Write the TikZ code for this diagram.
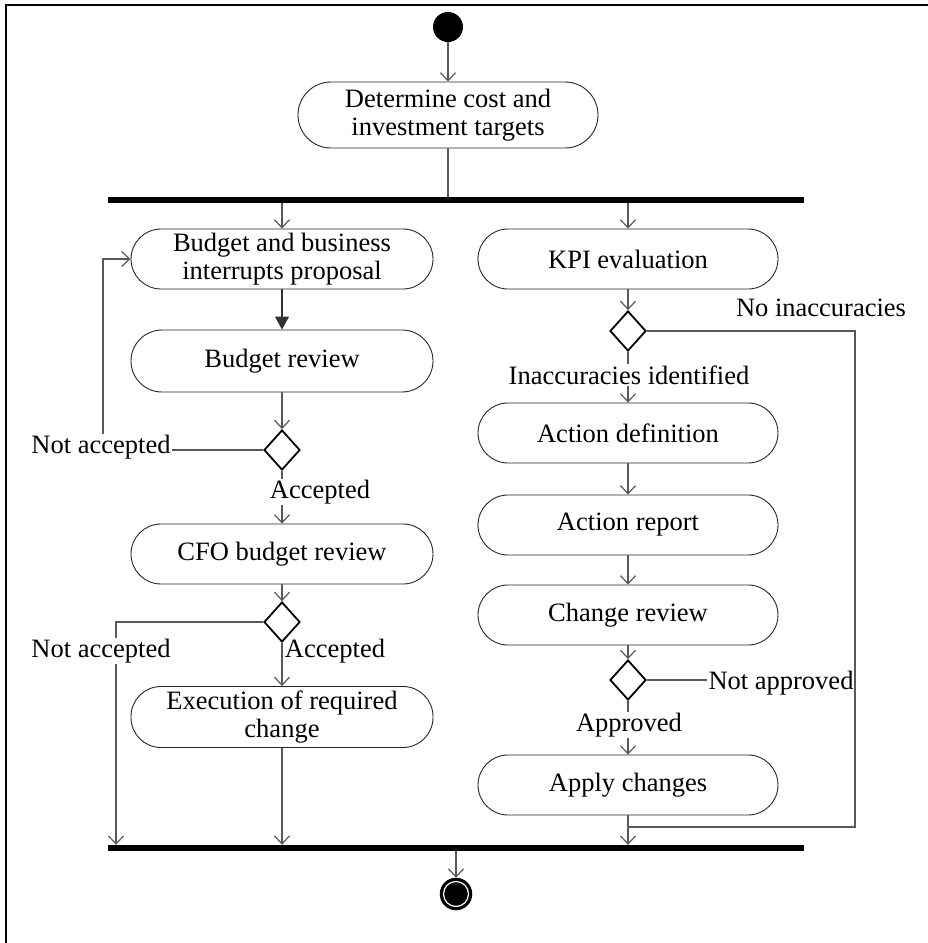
\documentclass[tikz,border=0pt]{standalone}
\usepackage{fontspec}
\setmainfont{Liberation Serif}
\usetikzlibrary{arrows.meta,shapes.geometric}
\begin{document}
\begin{tikzpicture}[x=1pt,y=-1pt,
  every node/.style={font=\fontsize{26.5}{28}\selectfont},
  action/.style={draw=black!85, line width=0.9pt, rounded corners=30pt,
    minimum width=302pt, minimum height=60pt, align=center, inner sep=0pt},
  choice/.style={diamond, draw=black, line width=1.8pt, minimum width=36pt,
    minimum height=40pt, inner sep=0pt},
  bar/.style={fill=black, minimum width=696pt, minimum height=6pt, inner sep=0pt},
  guard/.style={inner sep=1pt, fill=white},
  flow/.style={draw=black!65, line width=1.2pt},
  arr/.style={flow, -{Straight Barb[length=8pt,width=15pt]}},
  solidarr/.style={draw=black!80, line width=1.2pt, -{Triangle[length=13pt,width=14pt]}},
  startnode/.style={circle, fill=black, minimum size=30pt, inner sep=0pt},
  endnode/.style={circle, fill=black, draw=black, line width=1.5pt, minimum size=31pt,
    inner sep=0pt, path picture={\draw[white, line width=1.2pt]
      (path picture bounding box.center) circle (12.5pt);}}
]
\useasboundingbox (0,0) rectangle (928,943);
% frame
\draw[line width=2.2pt] (6,943) -- (6,5) -- (928,5);

% start, first action and fork
\node[startnode] (start) at (448,27) {};
\node[action, minimum width=300pt, minimum height=66pt, rounded corners=33pt]
  (det) at (448,115) {Determine cost and\\investment targets};
\node[bar] (fork) at (456,200) {};

% left branch
\node[action] (bprop) at (282,259) {Budget and business\\interrupts proposal};
\node[action, minimum height=62pt, rounded corners=31pt] (brev) at (282,361) {Budget review};
\node[choice] (d1) at (282,450) {};
\node[action] (cfo) at (282,554) {CFO budget review};
\node[choice] (d2) at (282,622) {};
\node[action, minimum height=61pt] (exec) at (282,717) {Execution of required\\change};

% right branch
\node[action, minimum width=300pt] (kpi) at (628,259) {KPI evaluation};
\node[choice] (d3) at (628,331) {};
\node[action, minimum width=300pt] (actdef) at (628,433) {Action definition};
\node[action, minimum width=300pt] (actrep) at (628,525) {Action report};
\node[action, minimum width=300pt] (chrev) at (628,615) {Change review};
\node[choice] (d4) at (628,680) {};
\node[action, minimum width=300pt] (apply) at (628,785) {Apply changes};

% join and end
\node[bar] (join) at (456,848) {};
\node[endnode] (end) at (456,894) {};

% guard labels
\node[guard] (na1) at (101,447) {Not accepted};
\node[guard] (acc1) at (320,492) {Accepted};
\node[guard] (na2) at (101,651) {Not accepted};
\node[guard, fill=none] (acc2) at (335,651) {Accepted};
\node[guard, fill=none] (noinacc) at (821,308) {No inaccuracies};
\node[guard] (inacc) at (629,375) {Inaccuracies identified};
\node[guard, fill=none] (notappr) at (781,683) {Not approved};
\node[guard] (appr) at (629,725) {Approved};

\coordinate (nr) at (855,331);
\coordinate (nb) at (855,827);

% connectors: top
\draw[arr] (start) -- (det);
\draw[flow] (det.south) -- (det.south |- fork.north);
\draw[arr] (bprop.north |- fork.south) -- (bprop.north);
\draw[arr] (kpi.north |- fork.south) -- (kpi.north);

% connectors: left branch
\draw[solidarr] (bprop) -- (brev);
\draw[arr] (brev) -- (d1);
\draw[flow] (d1.west) -- (d1.west -| na1.east);
\draw[arr] ([xshift=2pt]na1.north) |- (bprop.west);
\draw[flow] (d1.south) -- (d1.south |- acc1.north);
\draw[arr] (d1.south |- acc1.south) -- (cfo.north);
\draw[arr] (cfo) -- (d2);
\draw[flow] (d2.west) -| ([xshift=15pt]na2.north);
\draw[arr] ([xshift=15pt]na2.south) -- ([xshift=15pt]na2.south |- join.north);
\draw[arr] (d2.south) -- (exec.north);
\draw[arr] (exec.south) -- (exec.south |- join.north);

% connectors: right branch
\draw[arr] (kpi) -- (d3);
\draw[flow] (d3.east) -- (nr) -- (nb) -- (nb -| apply.south);
\draw[flow] (d3.south) -- (d3.south |- inacc.north);
\draw[arr] (d3.south |- inacc.south) -- (actdef.north);
\draw[arr] (actdef) -- (actrep);
\draw[arr] (actrep) -- (chrev);
\draw[arr] (chrev) -- (d4);
\draw[flow] (d4.east) -- (d4.east -| notappr.west);
\draw[flow] (d4.south) -- (d4.south |- appr.north);
\draw[arr] (d4.south |- appr.south) -- (apply.north);
\draw[arr] (apply.south) -- (apply.south |- join.north);

% end
\draw[arr] (end.north |- join.south) -- (end.north);

% label sitting on the right-hand return line
\node[guard] at (notappr) {Not approved};
\end{tikzpicture}
\end{document}
